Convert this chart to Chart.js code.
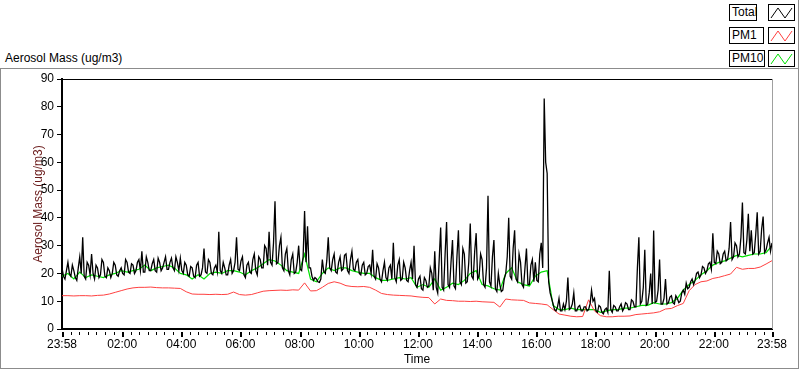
<!DOCTYPE html>
<html>
<head>
<meta charset="utf-8">
<script src="https://cdn.jsdelivr.net/npm/chart.js@4.4.0/dist/chart.umd.min.js"></script>
<style>
    body{margin:0;width:800px;height:369px;background:#fff;overflow:hidden;position:relative;font-family:"Liberation Sans",Arial,sans-serif;}
    #panel{position:absolute;left:0;top:68px;width:799px;height:301px;box-sizing:border-box;border:1px solid #8c8c8c;}
    #marco{position:absolute;left:798px;top:0;width:1px;height:69px;background:#8c8c8c;}
    #titulo{position:absolute;left:5px;top:51px;font-size:12px;color:#000;}
    .etiqueta{position:absolute;left:729px;height:17px;box-sizing:border-box;border:1px solid #000;font-size:12px;line-height:15px;padding-left:2px;background:#fff;}
    .icono{position:absolute;left:768px;width:27px;height:17px;box-sizing:border-box;border:1px solid #000;background:#fff;}
    #caja{position:absolute;left:0;top:0;width:800px;height:369px;}
</style>
</head>
<body>
<div id="panel"></div>
<div id="marco"></div>
<div id="titulo">Aerosol Mass (ug/m3)</div>
<div id="leyenda"></div>
<div id="caja"><canvas id="grafico1"></canvas></div>
<script>
// minutos desde las 23:58
let xTickMinutes=[0,122,242,362,482,602,722,842,962,1082,1202,1322,1440];
let xTickLabels=['23:58','02:00','04:00','06:00','08:00','10:00','12:00','14:00','16:00','18:00','20:00','22:00','23:58'];
let series=['Total','PM1','PM10'];
let colores=['#000000','#ff4040','#00e000'];

// Total cada 3 minutos
let totalValues=[
    22,19,18,21,24,20,19,23,21,18.5,17.5,22,26,20,33,19,18,24,23,19.5,
    27,20,18,23,22,18.5,19.5,25,24,19,18.5,22,21,18.5,20,24,23,19.5,19,21,
    22,20,19.5,25,24,20.5,20,23.5,23,20,21,24,25,21,28,20.5,20.5,26,24,21,
    21,23.5,25,21,20.5,25.5,24,21,22,24,26,21.5,21.5,24,25.5,22,21,26,24,21,
    25.5,21,20,24,23,19.5,19,22.5,22,19,18.5,23,24,19,19.5,22,29,20.5,20,25,
    24,20,19.5,22,23,20.5,35,21,20,24,22,19.5,19.5,23,25,20,21,24,33,21.5,
    21,24.5,26,19.5,18.5,23,24,20.5,20,25,27,21,19.5,26,25,22,22,30,29,23,
    35,24,23,31,46,23.5,24,30,33,22,21,27,29,21,19.5,25,27,20,20.5,24,
    30,21.5,21,26,42.5,24,37,22,22,19,17.5,18.5,18,17,16.8,18,25,20.5,20,24.5,
    33,22,21,25,27,20.5,20,24,26,21,21.5,26.5,27,21,20,25,28,21.5,21,24,
    25,20,19.5,23,24,19.5,20,22.5,23,20,28.5,19,18,23.5,22,18,17,21,24,18.5,
    17.5,22,23,18,31,18.5,17,23,25,17.5,18,24,22,17.5,17,21,24,18,30,16,
    15,18,19,14.5,14,18.5,17.5,15,15.5,22,20,14,28,15,13,25,36.5,15,14,27,
    38.5,16,15,24,32,15.5,14.5,26,35.5,17,16,29,27,16.5,17,24,38,19,18,28,
    34.5,18,19,27,25,16,15,22,48,17,15.5,26,32,14.5,13.5,20,16,13.5,14,18,
    20,26,40,19,18,29,35.5,18,17,27,24,16,15,22,29,16,16,23,25,17,
    24,17.5,17,27,31,22,83,60,56,17,13,11,9,7,6.5,8,11,6.5,6.5,9,
    7,10,18.5,7,7.5,9,13,6.5,6.5,8,8.5,6.5,6.5,8,8,6.5,7,9,14,10,
    11,6.5,6,8.5,8,6,5.5,7,7.5,6,21,7,6,8.5,8,6.5,6.5,8,9,6.5,
    7.5,9.5,9,7,7,10.5,10,8,8,22,33,9,10,15,28.5,8.5,9,13,20,9,
    35.5,9.5,10,14,25,9,9,11,18,9,9.5,11.5,12,9.5,9,12,11,9.5,10,13,
    14,12.5,16.5,14.5,15,17,18,16,17.5,20,20.5,18.5,19.5,22.5,22,20,21,23.5,24,21.5,
    34.5,24,23.5,28,27,23.5,24,27,28,24.5,25,29,38.5,25,26,31,30,26,27,33,
    45.5,27.5,27,32,41.5,28,35.5,27,27.5,34,42,27,28,36,40.5,27.5,28.5,31,33,28,
    31
];
// PM1 cada 12 minutos
let pm1Values=[
    12,12,11.9,12,12,11.9,12.1,12.2,12.6,13.2,
    13.8,14.4,14.8,15,15,15.1,14.9,14.8,14.8,14.7,
    14.6,13.4,12.6,12.5,12.5,12.4,12.5,12.4,12.5,13.3,
    12.4,12.2,12.4,13,13.6,13.8,13.9,14,13.9,14.1,
    14,16.6,13.7,13.8,15,16.4,17,16.5,15.6,15.3,
    15.2,15.3,15,14,12.8,12.4,12.2,12.1,12,11.9,
    11.6,11.4,11.3,9,10.8,10.3,10.2,10,10,9.9,
    10,9.8,9.7,9.6,7.9,10.8,10.5,10.4,10.3,9.4,
    9.2,9,8.7,7,5.4,5,4.6,4.4,4.5,10.5,
    6.5,4.8,4.4,4.4,4.6,4.6,4.7,5.2,5.4,5.6,
    5.8,6.2,7.2,7.4,8.4,9.2,13.8,16,17,17.3,
    18.2,18.6,19.2,19.8,22.2,21.5,21.8,21.8,22.3,23.4,
    24.6
];
// PM10 cada 12 minutos
let pm10Values=[
    19,20,18,20.5,18.5,19.5,19,18.5,19.5,20,
    21,20.5,21,21.5,23,21,22,22.5,23,22,
    20,19.5,18,19.5,18,20,20.5,20,21,21,
    20.5,19.5,21,22,23.5,25,24.5,23,21,20.5,
    20,27,18,17,20,22,21,22,22,21,
    20.5,20,20,18.5,17.5,17.5,18,18.5,18,18.5,
    15,16,15,18,14,15,16.5,16,17.5,20,
    21,16,15.5,14.5,14,20,22,17,16,15.5,
    19,20.5,21,8.5,7,7,7.5,7,7,7,
    7,6,6.5,7,7,7.5,7.5,8,8.5,8.5,
    9.5,9,9,9.5,11,14,16,17.5,19.5,21,
    23,24,24.5,25.5,26.5,26,26.5,27,27,27.5,
    30
];

function puntos(valores,paso){
    let lista=[];
    valores.forEach((v,i)=>{
        lista.push({x:i*paso,y:v});
    });
    return lista;
}

// leyenda
let anchos=[28,35,36];
let leyenda=document.getElementById('leyenda');
series.forEach((nombre,i)=>{
    let top=4+i*23;
    let et=document.createElement('div');
    et.className='etiqueta';
    et.style.top=top+'px';
    et.style.width=anchos[i]+'px';
    et.textContent=nombre;
    leyenda.appendChild(et);
    let ic=document.createElement('div');
    ic.className='icono';
    ic.style.top=top+'px';
    ic.innerHTML='<svg width="25" height="15"><polyline points="2,13 9,3 16,13 23,3" fill="none" stroke="'+colores[i]+'" stroke-width="1"/></svg>';
    leyenda.appendChild(ic);
});

const marco={
    id:'marco',
    afterDraw(chart){
        const ctx=chart.ctx;
        const area=chart.chartArea;
        const ex=chart.scales.x;
        ctx.save();
        ctx.strokeStyle='#000';
        ctx.lineWidth=1;
        ctx.beginPath();
        ctx.moveTo(area.left,area.top+0.5);
        ctx.lineTo(area.right,area.top+0.5);
        ctx.stroke();
        ctx.strokeStyle='#a0a0a0';
        ctx.beginPath();
        ctx.moveTo(area.right+0.5,area.top);
        ctx.lineTo(area.right+0.5,area.bottom);
        ctx.stroke();
        ctx.fillStyle='#000';
        for(let k=0;k<xTickMinutes.length;k++){
            let px=Math.round(ex.getPixelForValue(xTickMinutes[k]));
            ctx.fillRect(px,area.bottom+3,2,5);
            if(k<xTickMinutes.length-1){
                let paso=(xTickMinutes[k+1]-xTickMinutes[k])/7;
                for(let m=1;m<7;m++){
                    let pm=Math.round(ex.getPixelForValue(xTickMinutes[k]+paso*m));
                    ctx.fillRect(pm,area.bottom+3,1,3);
                }
            }
        }
        ctx.restore();
    }
};

Chart.defaults.font.family='"Liberation Sans", Arial, sans-serif';
Chart.defaults.font.size=12;
Chart.defaults.color='#000';

let canvasG1=document.getElementById('grafico1').getContext('2d');
let datos={
    datasets:[
        {label:series[0],data:puntos(totalValues,3),borderColor:colores[0],borderWidth:1.3,pointRadius:0,tension:0},
        {label:series[1],data:puntos(pm1Values,12),borderColor:colores[1],borderWidth:1,pointRadius:0,tension:0},
        {label:series[2],data:puntos(pm10Values,12),borderColor:colores[2],borderWidth:1.2,pointRadius:0,tension:0}
    ]
};
let opciones={
    maintainAspectRatio:false,
    responsive:true,
    animation:false,
    layout:{padding:{top:79,right:28,left:0,bottom:0}},
    plugins:{legend:{display:false},tooltip:{enabled:false}},
    scales:{
        x:{
            type:'linear',
            min:0,
            max:1440,
            afterFit:(s)=>{s.height=40;},
            afterBuildTicks:(s)=>{s.ticks=xTickMinutes.map(v=>({value:v}));},
            grid:{display:false,drawTicks:false},
            border:{display:true,color:'#000',width:2},
            ticks:{autoSkip:false,maxRotation:0,padding:8,callback:(v)=>{
                let k=xTickMinutes.indexOf(v);
                return k>=0?xTickLabels[k]:'';
            }},
            title:{display:true,text:'Time',padding:{top:0,bottom:2},color:'#000'}
        },
        y:{
            min:0,
            max:90,
            afterFit:(s)=>{s.width=62;},
            grid:{drawOnChartArea:false,tickLength:5,color:'#000'},
            border:{display:true,color:'#000',width:2},
            ticks:{stepSize:10,padding:3},
            title:{display:true,text:'Aerosol Mass (ug/m3)',padding:{top:31,bottom:0},color:'#6b1c1c'}
        }
    }
};
let G1=new Chart(canvasG1,{
    type:'line',
    data:datos,
    options:opciones,
    plugins:[marco]
});
</script>
</body>
</html>
